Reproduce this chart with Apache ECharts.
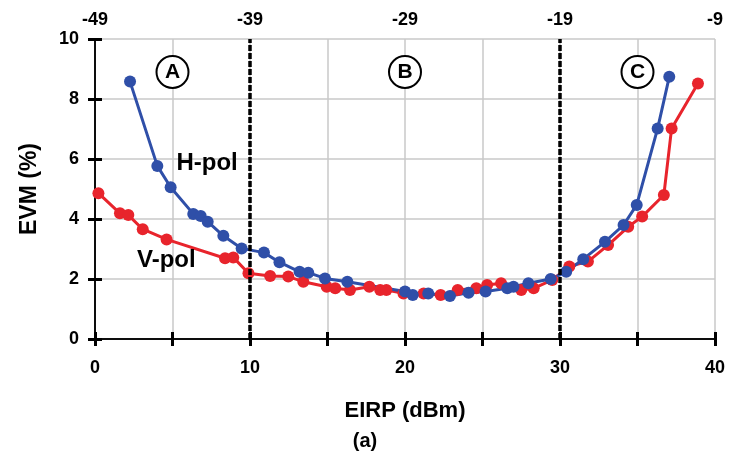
<!DOCTYPE html>
<html><head><meta charset="utf-8">
<script src="https://cdn.jsdelivr.net/npm/echarts@6/dist/echarts.min.js"></script>
<style>html,body{margin:0;padding:0;background:#fff}#c{width:730px;height:456px}</style>
</head><body><div id="c"></div>
<script>
const hX = [2.26,4.02,4.88,6.34,6.82,7.27,8.28,9.46,10.9,11.9,13.2,13.76,14.84,16.28,20.0,20.5,21.5,22.9,24.1,25.2,26.6,27.0,27.96,29.4,30.4,31.5,32.9,34.1,34.95,36.3,37.05];
const hY = [8.58,5.77,5.06,4.17,4.10,3.91,3.44,3.02,2.88,2.56,2.24,2.21,2.02,1.91,1.58,1.47,1.52,1.43,1.54,1.58,1.69,1.74,1.86,2.0,2.24,2.66,3.24,3.80,4.47,7.02,8.74];
const vX = [0.22,1.61,2.15,3.08,4.62,8.39,8.92,9.9,11.3,12.47,13.44,14.95,15.5,16.45,17.7,18.4,18.8,19.9,21.2,22.3,23.4,24.6,25.3,26.2,27.5,28.3,29.5,30.6,31.8,33.1,34.4,35.3,36.7,37.2,38.9];
const vY = [4.86,4.19,4.13,3.66,3.32,2.69,2.72,2.19,2.10,2.08,1.91,1.74,1.69,1.63,1.74,1.63,1.63,1.52,1.52,1.47,1.63,1.69,1.80,1.86,1.63,1.69,1.97,2.42,2.58,3.13,3.74,4.08,4.80,7.02,8.52];
const topOffset = -49;
const regionLetters = ['A','B','C'];
const regionX = [5,20,35];
const regionLines = [10,30];

const chart = echarts.init(document.getElementById('c'));
const font = 'Liberation Sans, Arial, sans-serif';
const lab = {color:'#000', fontFamily:font, fontWeight:'bold', fontSize:18};
const axLine = {show:true, lineStyle:{color:'#000', width:1.5}};
const tick = {show:true, inside:true, length:7, lineStyle:{color:'#000', width:3}};
chart.setOption({
  animation:false,
  grid:{left:95, right:15, top:39, bottom:117},
  xAxis:[{
    type:'value', min:0, max:40, interval:5, position:'bottom',
    axisLine:axLine, axisTick:tick,
    axisLabel:Object.assign({margin:20, formatter:v=> v%10===0? String(v):''}, lab),
    splitLine:{show:true, lineStyle:{color:'#c8c8c8', width:1.5}},
    name:'EIRP (dBm)', nameLocation:'middle', nameGap:61,
    nameTextStyle:{color:'#000', fontFamily:font, fontWeight:'bold', fontSize:22}
  },{
    type:'value', min:0, max:40, interval:5, position:'top',
    axisLine:axLine, axisTick:tick,
    axisLabel:Object.assign({margin:10, formatter:v=> v%10===0? String(v+topOffset):''}, lab),
    splitLine:{show:false}
  }],
  yAxis:[{
    type:'value', min:0, max:10, interval:2, position:'left',
    axisLine:axLine, axisTick:tick,
    axisLabel:Object.assign({margin:16}, lab),
    splitLine:{show:true, lineStyle:{color:'#c8c8c8', width:1.5}},
    name:'EVM (%)', nameLocation:'middle', nameGap:54,
    nameTextStyle:{color:'#000', fontFamily:font, fontWeight:'bold', fontSize:23}
  },{
    type:'value', min:0, max:10, interval:2, position:'right',
    axisLine:axLine, axisTick:tick, axisLabel:{show:false}, splitLine:{show:false}
  }],
  graphic:[{type:'text', left:'center', top:431, style:{text:'(a)', fill:'#000', font:'bold 20px '+font}}],
  series:[{
    type:'line', name:'V-pol', data:vX.map((x,i)=>[x,vY[i]]),
    symbol:'circle', symbolSize:12, color:'#e8242c',
    lineStyle:{width:3, color:'#e8242c'}, itemStyle:{color:'#e8242c'},
    markLine:{silent:true, symbol:'none', label:{show:false},
      lineStyle:{color:'#000', type:[6,2], width:3.5},
      data:regionLines.map(x=>({xAxis:x}))},
    markPoint:{silent:true, data:[{coord:[4.6,2.63], symbolSize:0,
      label:{show:true, formatter:'V-pol', color:'#000', fontFamily:font, fontWeight:'bold', fontSize:24, position:'inside'}}]}
  },{
    type:'line', name:'H-pol', data:hX.map((x,i)=>[x,hY[i]]),
    symbol:'circle', symbolSize:12, color:'#2f4fa8',
    lineStyle:{width:3, color:'#2f4fa8'}, itemStyle:{color:'#2f4fa8'},
    markPoint:{silent:true, data:[{coord:[7.23,5.87], symbolSize:0,
      label:{show:true, formatter:'H-pol', color:'#000', fontFamily:font, fontWeight:'bold', fontSize:24, position:'inside'}}]
      .concat(regionLetters.map((t,i)=>({coord:[regionX[i],8.9], symbol:'circle', symbolSize:32,
        itemStyle:{color:'#fff', borderColor:'#000', borderWidth:2},
        label:{show:true, formatter:t, color:'#000', fontFamily:font, fontWeight:'bold', fontSize:21, position:'inside'}})))}
  }]
});
</script></body></html>
